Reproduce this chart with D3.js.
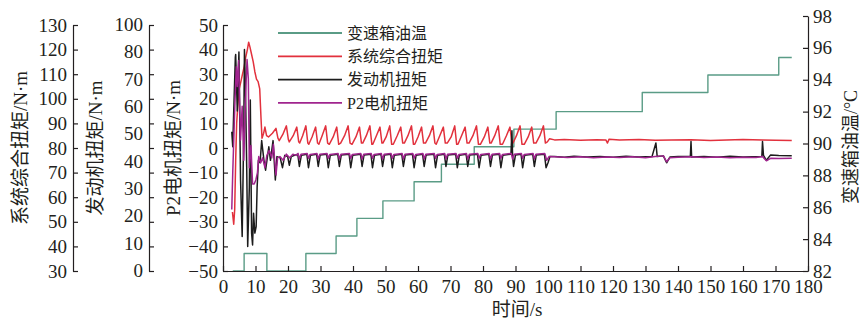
<!DOCTYPE html>
<html>
<head>
<meta charset="utf-8">
<script src="https://cdn.jsdelivr.net/npm/d3@7"></script>
<style>
  html, body { margin: 0; padding: 0; background: #fff; }
  svg { display: block; }
  .axis text { font-family: "Liberation Serif", "Times New Roman", serif; font-size: 19px; fill: #231f20; }
  .axis path, .axis line { stroke: #231f20; stroke-width: 1.2; }
  .title { font-family: "Liberation Serif", "Noto Sans CJK SC", serif; font-size: 19px; fill: #231f20; }
  .legend text { font-family: "Liberation Serif", "Noto Sans CJK SC", serif; font-size: 16px; fill: #231f20; }
</style>
</head>
<body>
<div id="chart"></div>
<script>
// tick values / labels
var xTicks = [0, 10, 20, 30, 40, 50, 60, 70, 80, 90, 100, 110, 120, 130, 140, 150, 160, 170, 180];
var sysTicks = [30, 40, 50, 60, 70, 80, 90, 100, 110, 120, 130];
var engTicks = [0, 10, 20, 30, 40, 50, 60, 70, 80, 90, 100];
var engTickLabels = ['0', '10', '20', '30', '40', '50', '60', '70', '80', '100'];
var p2Ticks = [-50, -40, -30, -20, -10, 0, 10, 20, 30, 40, 50];
var tempTicks = [82, 84, 86, 88, 90, 92, 94, 96, 98];

var seriesNames = ['变速箱油温', '系统综合扭矩', '发动机扭矩', 'P2电机扭矩'];

// 变速箱油温 (°C), step after
var oilTemp = [[3, 82], [6.5, 83.1], [13.5, 82], [25.5, 83.1], [34.8, 84.2], [41.2, 85.3], [49.2, 86.4],
  [58.8, 87.6], [67.2, 88.7], [77.3, 89.8], [89.5, 90.9], [102.5, 92.0], [129, 93.2], [149.2, 94.3],
  [171, 95.4], [175, 95.4]];

// 系统综合扭矩 (N·m)
var sysTorque = [[2.9, 54], [3.3, 49], [3.6, 55], [3.9, 75], [4.2, 90], [4.6, 98], [5.0, 104], [5.5, 107],
  [6.0, 110], [6.5, 113], [7.0, 117], [7.5, 120], [7.9, 123], [8.3, 121], [8.8, 118], [9.3, 115],
  [9.8, 111], [10.3, 108], [10.8, 107], [11.3, 104], [11.7, 92], [12.0, 84], [12.5, 86], [12.9, 88.5], [13.4, 85],
  [14.0, 84.5], [15.2, 86], [16.3, 88], [16.9, 84],
  [17.3, 83], [18.4, 85.5], [19.5, 89], [20.1, 83.5],
  [20.4, 82.5], [21.6, 85], [22.7, 88.5], [23.3, 82.5],
  [23.6, 82], [24.5, 85], [25.5, 89], [26.1, 82],
  [26.4, 81.5], [27.4, 84.5], [28.5, 88.5], [29.1, 82],
  [29.5, 81.5], [30.5, 85], [31.6, 89], [32.2, 82],
  [32.7, 81.5], [33.9, 84.5], [35.0, 88.5], [35.6, 81.5],
  [36.2, 82], [37.4, 85], [38.5, 89], [39.1, 82],
  [39.7, 81.5], [40.9, 84.5], [42.0, 88.5], [42.6, 82],
  [43.0, 82], [44.1, 85], [45.2, 89], [45.8, 81.5],
  [46.1, 81.5], [47.2, 85], [48.3, 88.5], [48.9, 82],
  [49.2, 82], [50.2, 84.5], [51.3, 89], [51.9, 81.5],
  [52.4, 81.5], [53.6, 85], [54.7, 88.5], [55.3, 82],
  [55.8, 82], [56.9, 85], [58.0, 89], [58.6, 81.5],
  [59.0, 81.5], [60.0, 84.5], [61.1, 88.5], [61.7, 82],
  [62.3, 82], [63.5, 85], [64.6, 89], [65.2, 82],
  [65.6, 81.5], [66.7, 85], [67.8, 88.5], [68.4, 82],
  [69.0, 82], [70.2, 84.5], [71.3, 89], [71.9, 81.5],
  [72.3, 81.5], [73.4, 85], [74.5, 88.5], [75.1, 82],
  [75.7, 82], [76.9, 85], [78.0, 89], [78.6, 81.5],
  [79.2, 81.5], [80.4, 84.5], [81.5, 88.5], [82.1, 82],
  [82.5, 82], [83.6, 85], [84.7, 89], [85.3, 81.5],
  [86.0, 81.5], [87.2, 85], [88.3, 88.5], [88.9, 82],
  [89.2, 82], [90.3, 85], [91.4, 89], [92.0, 81.5],
  [92.7, 81.5], [93.9, 84.5], [95.0, 88.5], [95.6, 82],
  [96.3, 82], [97.5, 85], [98.6, 89], [99.2, 82],
  [99.8, 82.5], [100.5, 83.8], [102, 83.3], [105, 83.5], [110, 83.2], [115, 83.4], [117.8, 83.3],
  [118.3, 82], [118.8, 83.6], [122, 83.3], [128, 83.5], [133, 83.2], [138, 83.3], [144, 83.4],
  [150, 83.0], [155, 83.3], [160, 83.5], [166, 83.3], [170, 83.2], [175, 83.0]];

// 发动机扭矩 (N·m)
var engTorque = [[2.7, 56.6], [3.0, 50.5], [3.3, 65], [3.8, 87], [3.9, 88], [4.4, 65], [4.9, 89], [5.4, 37],
  [5.9, 14], [6.4, 58.7], [6.6, 90], [6.9, 75], [7.3, 42], [7.6, 10], [8.1, 34], [8.4, 69.5], [8.8, 15.4],
  [9.1, 10.6], [9.4, 23.5], [9.8, 15.4], [10.2, 18], [10.5, 34], [10.9, 45], [11.4, 44], [11.9, 53],
  [12.6, 45], [13.1, 41], [14.1, 50.5], [14.6, 45], [15.4, 53], [16.1, 37], [16.6, 46.5], [17.6, 46],
  [18.3, 42], [19.0, 47], [19.9, 46.5], [20.4, 43], [21.0, 46.5], [22.0, 47],
  [23.0, 47.5], [23.5, 42.5], [24.1, 47],
  [25.8, 47.5], [26.3, 42], [26.9, 47],
  [28.8, 47.5], [29.3, 42.5], [29.9, 47.2],
  [31.9, 47.5], [32.4, 42], [33.0, 47],
  [35.3, 47.5], [35.8, 42.5], [36.4, 47.2],
  [38.8, 47.5], [39.3, 42], [39.9, 47],
  [42.3, 47.5], [42.8, 42.5], [43.4, 47.2],
  [45.5, 47.5], [46.0, 42], [46.6, 47],
  [48.6, 47.5], [49.1, 42.5], [49.7, 47.2],
  [51.6, 47.5], [52.1, 42], [52.7, 47],
  [55.0, 47.5], [55.5, 42.5], [56.1, 47.2],
  [58.3, 47.5], [58.8, 42], [59.4, 47],
  [61.4, 47.5], [61.9, 42.5], [62.5, 47.2],
  [64.9, 47.5], [65.4, 42], [66.0, 47],
  [68.1, 47.5], [68.6, 42.5], [69.2, 47.2],
  [71.6, 47.5], [72.1, 42], [72.7, 47],
  [74.8, 47.5], [75.3, 42.5], [75.9, 47.2],
  [78.3, 47.5], [78.8, 42], [79.4, 47],
  [81.8, 47.5], [82.3, 42.5], [82.9, 47.2],
  [85.0, 47.5], [85.5, 42], [86.1, 47],
  [88.6, 47.5], [88.9, 57], [89.1, 47], [89.4, 42.5], [90.0, 47.2],
  [91.7, 47.5], [92.2, 42], [92.8, 47],
  [95.3, 47.5], [95.8, 42.5], [96.4, 47.2],
  [98.9, 47.5], [99.4, 42], [100.0, 44], [100.6, 46.5],
  [102, 46.5], [105, 46.2], [108, 46.6], [112, 46.3], [116, 46.5], [120, 46.2], [124, 46.6], [128, 46.3],
  [132, 46.5], [133.2, 52], [133.6, 46.5], [135.5, 46.8], [136.5, 44], [137.5, 46.3], [140, 46.5],
  [143.8, 46.5], [144.0, 52.6], [144.2, 46.3], [148, 46.5], [152, 46.2], [156, 46.6], [160, 46.3],
  [165.8, 46.5], [166.0, 52.6], [166.3, 47], [167.2, 45], [168.5, 47.2], [171, 47], [175, 46.8]];

// P2电机扭矩 (N·m)
var p2Torque = [[2.7, -25], [3.0, -10], [3.7, 19.5], [4.1, 33], [4.4, 25], [4.8, 35.6], [5.4, 3.3], [5.9, 17],
  [6.4, -5], [6.9, 20], [7.4, 36], [7.8, 28], [8.1, -8], [8.6, 1], [9.1, -14.6], [9.6, -14.6], [10.1, -13],
  [10.6, -10], [11.0, -3.5], [11.6, -6], [12.2, -4], [12.9, -8], [13.5, -3], [14.2, -1], [15.0, -4],
  [15.5, 1.5], [16.3, -11], [16.8, -4], [17.5, -3.5], [18.5, -5], [19.5, -2.5], [20.5, -4], [21.5, -2.5], [22.5, -3],
  [23.1, -2.2], [23.5, -4.5], [24.0, -2.5],
  [25.9, -2.2], [26.3, -4.2], [26.8, -2.6],
  [28.9, -2.2], [29.3, -4.5], [29.8, -2.5],
  [32.0, -2.2], [32.4, -4.2], [32.9, -2.6],
  [35.4, -2.2], [35.8, -4.5], [36.3, -2.5],
  [38.9, -2.2], [39.3, -4.2], [39.8, -2.6],
  [42.4, -2.2], [42.8, -4.5], [43.3, -2.5],
  [45.6, -2.2], [46.0, -4.2], [46.5, -2.6],
  [48.7, -2.2], [49.1, -4.5], [49.6, -2.5],
  [51.7, -2.2], [52.1, -4.2], [52.6, -2.6],
  [55.1, -2.2], [55.5, -4.5], [56.0, -2.5],
  [58.4, -2.2], [58.8, -4.2], [59.3, -2.6],
  [61.5, -2.2], [61.9, -4.5], [62.4, -2.5],
  [65.0, -2.2], [65.4, -4.2], [65.9, -2.6],
  [68.2, -2.2], [68.6, -4.5], [69.1, -2.5],
  [71.7, -2.2], [72.1, -4.2], [72.6, -2.6],
  [74.9, -2.2], [75.3, -4.5], [75.8, -2.5],
  [78.4, -2.2], [78.8, -4.2], [79.3, -2.6],
  [81.9, -2.2], [82.3, -4.5], [82.8, -2.5],
  [85.1, -2.2], [85.5, -4.2], [86.0, -2.6],
  [88.7, -2.2], [89.1, -4.5], [89.6, -2.5],
  [91.8, -2.2], [92.2, -4.2], [92.7, -2.6],
  [95.4, -2.2], [95.8, -4.5], [96.3, -2.5],
  [99.0, -2.2], [99.6, -5], [100.3, -3.5],
  [102, -3.6], [106, -3.9], [110, -3.6], [114, -4.0], [118, -3.7], [122, -3.9], [126, -3.6], [130, -4.0],
  [133, -3.5], [135.5, -3.2], [136.5, -5.6], [137.5, -4], [140, -3.8], [144, -3.6], [148, -3.9],
  [152, -3.7], [156, -4.0], [160, -3.8], [164, -3.9], [166, -3.5], [167.2, -5.2], [168.5, -4.2],
  [171, -4.3], [175, -4.2]];

var colors = { temp: '#5a9c86', sys: '#e2313d', eng: '#1c1c1c', p2: '#a0248e' };

var width = 861, height = 322;
var plot = { left: 223, right: 808, top: 25, bottom: 271 };

var svg = d3.select('#chart').append('svg')
  .attr('width', width)
  .attr('height', height);

var xScale = d3.scaleLinear().domain([0, 180]).range([plot.left, plot.right]);
var ySys = d3.scaleLinear().domain([30, 130]).range([plot.bottom, plot.top]);
var yEng = d3.scaleLinear().domain([0, 100]).range([plot.bottom, plot.top]);
var yP2 = d3.scaleLinear().domain([-50, 50]).range([plot.bottom, plot.top]);
var yTemp = d3.scaleLinear().domain([82, 98]).range([plot.bottom, 16]);

function drawLine(data, yScale, color, curve, sw) {
  svg.append('path')
    .datum(data)
    .attr('d', d3.line()
      .x(function(d) { return xScale(d[0]); })
      .y(function(d) { return yScale(d[1]); })
      .curve(curve || d3.curveLinear))
    .attr('fill', 'none')
    .attr('stroke', color)
    .attr('stroke-width', sw || 1.5)
    .attr('stroke-linejoin', 'round');
}

drawLine(oilTemp, yTemp, colors.temp, d3.curveStepAfter, 1.4);
drawLine(sysTorque, ySys, colors.sys);
drawLine(engTorque, yEng, colors.eng);
drawLine(p2Torque, yP2, colors.p2);

// left axes, ticks pointing right
svg.append('g').attr('class', 'axis')
  .attr('transform', 'translate(73,0)')
  .call(d3.axisLeft(ySys).tickValues(sysTicks).tickSizeInner(-5).tickSizeOuter(0).tickPadding(6));

var engAxis = svg.append('g').attr('class', 'axis')
  .attr('transform', 'translate(149,0)')
  .call(d3.axisLeft(yEng).tickValues(engTicks).tickFormat('').tickSizeInner(-5).tickSizeOuter(0));
// labels on this axis are spread evenly (90 is missing in the original)
var engLabelPos = d3.scalePoint().domain(engTickLabels).range([plot.bottom, plot.top]);
engAxis.selectAll('text.lbl')
  .data(engTickLabels)
  .enter().append('text')
  .attr('class', 'lbl')
  .attr('x', -6)
  .attr('y', function(d) { return engLabelPos(d); })
  .attr('dy', '0.32em')
  .attr('text-anchor', 'end')
  .text(function(d) { return d; });

svg.append('g').attr('class', 'axis')
  .attr('transform', 'translate(' + plot.left + ',0)')
  .call(d3.axisLeft(yP2).tickValues(p2Ticks).tickSizeInner(-5).tickSizeOuter(0).tickPadding(5)
    .tickFormat(function(d) { return d < 0 ? '\u2212' + Math.abs(d) : d; }));

// bottom axis
svg.append('g').attr('class', 'axis')
  .attr('transform', 'translate(0,' + plot.bottom + ')')
  .call(d3.axisBottom(xScale).tickValues(xTicks).tickSizeInner(-5).tickSizeOuter(0).tickPadding(9));

// right axis
svg.append('g').attr('class', 'axis')
  .attr('transform', 'translate(' + plot.right + ',0)')
  .call(d3.axisRight(yTemp).tickValues(tempTicks).tickSizeInner(-5).tickSizeOuter(0).tickPadding(5));

// axis titles
function vTitle(cx, cy, txt, size) {
  svg.append('text').attr('class', 'title')
    .attr('transform', 'translate(' + cx + ',' + cy + ') rotate(-90)')
    .attr('text-anchor', 'middle')
    .attr('dy', '0.35em')
    .style('font-size', (size || 19) + 'px')
    .text(txt);
}
vTitle(20, 148, '系统综合扭矩/N·m');
vTitle(95, 148, '发动机扭矩/N·m');
vTitle(173, 148, 'P2电机扭矩/N·m');
vTitle(851, 147, '变速箱油温/°C', 18);

svg.append('text').attr('class', 'title')
  .attr('x', 517).attr('y', 316)
  .attr('text-anchor', 'middle')
  .text('时间/s');

// legend
var legendColors = [colors.temp, colors.sys, colors.eng, colors.p2];
var legend = svg.append('g').attr('class', 'legend');
var rows = legend.selectAll('g')
  .data(seriesNames)
  .enter().append('g')
  .attr('transform', function(d, i) { return 'translate(278,' + (33 + i * 23.3) + ')'; });
rows.append('line')
  .attr('x1', 0).attr('x2', 64)
  .attr('stroke', function(d, i) { return legendColors[i]; })
  .attr('stroke-width', 1.8);
rows.append('text')
  .attr('x', 69)
  .attr('dy', '0.36em')
  .text(function(d) { return d; });
</script>
</body>
</html>
